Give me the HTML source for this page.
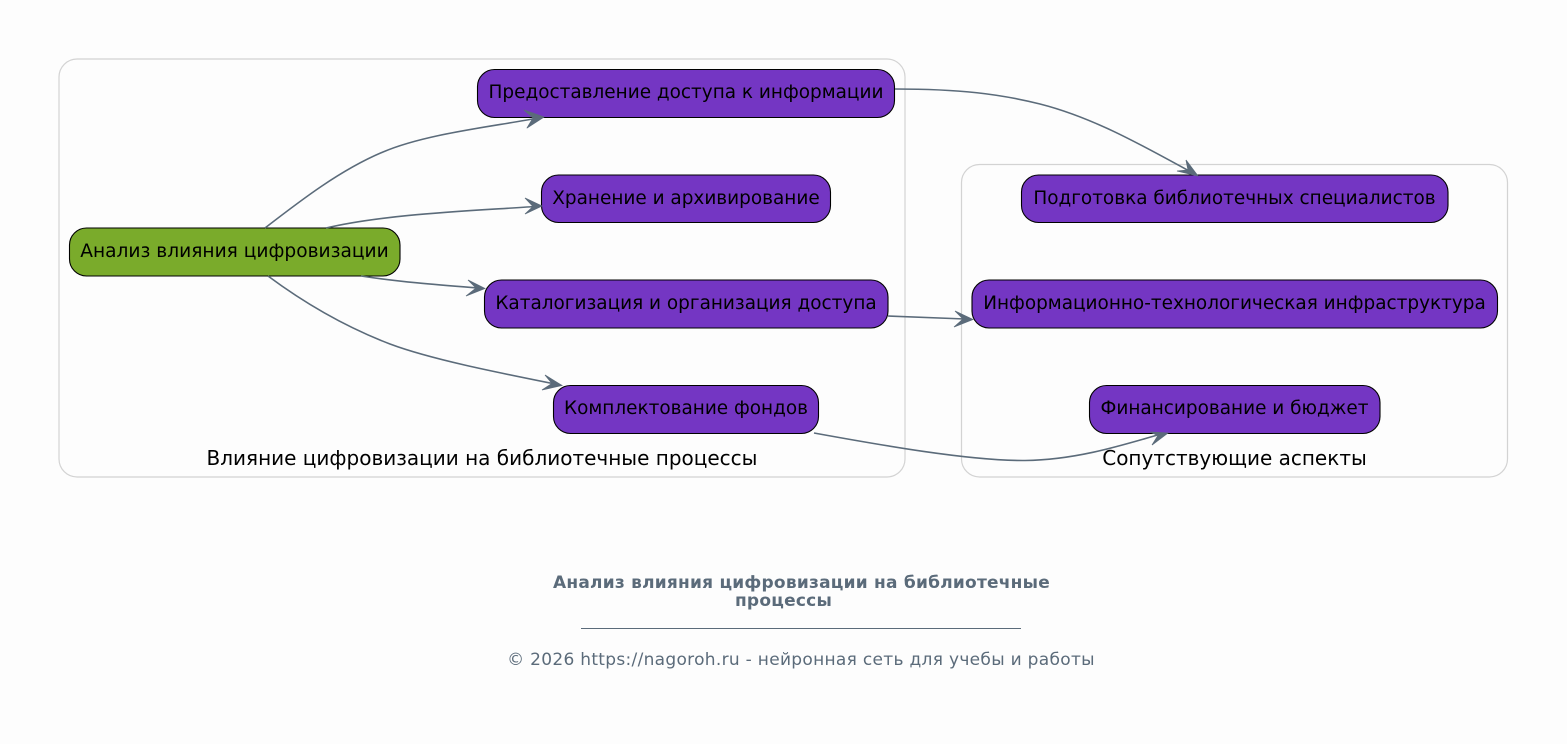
<!DOCTYPE html>
<html><head><meta charset="utf-8">
<style>html,body{margin:0;padding:0;background:#fdfdfd;width:1567px;height:744px;overflow:hidden}
svg{display:block}
text{font-family:"DejaVu Sans",sans-serif}
.n{font-size:18.45px;fill:#000;text-anchor:middle}
.t{font-size:20px;fill:#000;text-anchor:middle}
.e{fill:none;stroke:#5b6b7a;stroke-width:1.6}
.a{fill:#5b6b7a}
.c{fill:none;stroke:#d3d3d3;stroke-width:1.2}
.p{fill:#7436c3;stroke:#000;stroke-width:1.1}
</style></head><body>
<svg width="1567" height="744" viewBox="0 0 1567 744" xmlns="http://www.w3.org/2000/svg">
<rect x="0" y="0" width="1567" height="744" fill="#fdfdfd"/>
<rect class="c" x="59" y="59" width="846" height="418" rx="18"/>
<rect class="c" x="961.500" y="164.500" width="546" height="312.500" rx="18"/>
<text class="t" x="482" y="465">Влияние цифровизации на библиотечные процессы</text>
<text class="t" x="1234.500" y="465">Сопутствующие аспекты</text>

<rect x="69.500" y="228" width="330.500" height="48" rx="17" fill="#7aab2b" stroke="#000" stroke-width="1.1"/>
<rect class="p" x="477.500" y="69.500" width="417" height="48" rx="17"/>
<rect class="p" x="541.500" y="175" width="289" height="47.500" rx="17"/>
<rect class="p" x="484.500" y="280" width="403.500" height="48" rx="17"/>
<rect class="p" x="553.500" y="385.500" width="265" height="48" rx="17"/>
<rect class="p" x="1021.500" y="175" width="426.500" height="47.500" rx="17"/>
<rect class="p" x="972" y="280" width="525.500" height="48" rx="17"/>
<rect class="p" x="1089.500" y="385.500" width="290.500" height="48" rx="17"/>

<text class="n" x="234.500" y="257" style="font-size:18.6px">Анализ влияния цифровизации</text>
<text class="n" x="686" y="98">Предоставление доступа к информации</text>
<text class="n" x="686" y="204">Хранение и архивирование</text>
<text class="n" x="686" y="309">Каталогизация и организация доступа</text>
<text class="n" x="686" y="414">Комплектование фондов</text>
<text class="n" x="1234.500" y="204">Подготовка библиотечных специалистов</text>
<text class="n" x="1234.500" y="309">Информационно-технологическая инфраструктура</text>
<text class="n" x="1234.500" y="414">Финансирование и бюджет</text>

<path class="e" d="M265 228C300 201 340 170 383 152C425 134 490 127 538 118"/>
<path class="a" d="M544 117L524 110L533 118L527 128Z" stroke="#5b6b7a" stroke-width="0.8" stroke-linejoin="round"/>
<path class="e" d="M326 228C385 214 470 211 535 206.500"/>
<path class="a" d="M542 206L525 198L533 206.500L525 214Z" stroke="#5b6b7a" stroke-width="0.8"/>
<path class="e" d="M361 276C400 282 440 285 478 288"/>
<path class="a" d="M485 288.500L468 280L476 288L466 296Z" stroke="#5b6b7a" stroke-width="0.8"/>
<path class="e" d="M268 276C303 302 343 326 390 344C430 359 495 372 555 384"/>
<path class="a" d="M562 385.500L545 375L552 383.500L542 390Z" stroke="#5b6b7a" stroke-width="0.8"/>
<path class="e" d="M895 89C960 89 1000 94 1040 104C1095 118 1145 147 1191 172"/>
<path class="a" d="M1198 176L1186 160L1188 170L1177 171Z" stroke="#5b6b7a" stroke-width="0.8"/>
<path class="e" d="M888 316L965 319"/>
<path class="a" d="M973 319.500L955 311L963 319L954 327Z" stroke="#5b6b7a" stroke-width="0.8"/>
<path class="e" d="M814 433C880 445 970 461 1025 460.500C1075 460 1120 446 1161 434"/>
<path class="a" d="M1168 433L1150 432L1158 435.500L1152 445Z" stroke="#5b6b7a" stroke-width="0.8"/>

<text x="801.500" y="588" text-anchor="middle" font-size="17" font-weight="bold" letter-spacing="0.23" fill="#5b6b7a">Анализ влияния цифровизации на библиотечные</text>
<text x="783.500" y="606" text-anchor="middle" font-size="17" font-weight="bold" letter-spacing="0.23" fill="#5b6b7a">процессы</text>
<line x1="581" y1="628.500" x2="1021" y2="628.500" stroke="#5b6b7a" stroke-width="1"/>
<text x="801" y="665" text-anchor="middle" font-size="17" letter-spacing="0.3" fill="#5b6b7a">© 2026 https://nagoroh.ru - нейронная сеть для учебы и работы</text>
</svg>
</body></html>
